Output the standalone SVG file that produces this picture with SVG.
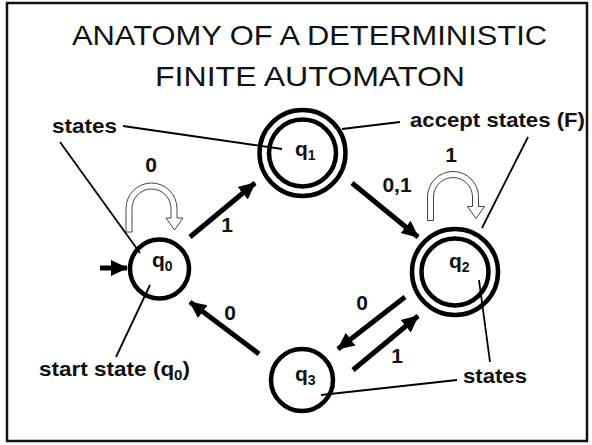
<svg xmlns="http://www.w3.org/2000/svg" width="592" height="445" viewBox="0 0 592 445">
<style>
.title{font-family:"Liberation Sans",Arial,sans-serif;font-size:28px;fill:#111}
.lbl{font-family:"Liberation Sans",Arial,sans-serif;font-size:21px;font-weight:bold;fill:#111}
.st{fill:none;stroke:#000;stroke-width:4.5}
.edge{stroke:#000;stroke-width:5;fill:none}
.lead{stroke:#000;stroke-width:1.8;fill:none}
.loop{fill:#fff;stroke:#444;stroke-width:1}
</style>
<defs>
<marker id="ah" markerUnits="userSpaceOnUse" markerWidth="18" markerHeight="18" refX="16" refY="9" orient="auto">
<path d="M0,1 L17,9 L0,17 Z" fill="#000"/>
</marker>
<path id="loopShape" d="M126,232 L126,208.5 A25.5,25.5 0 0 1 177,208.5 L177,218 L183,218 L174.5,230 L166,218 L171,218 L171,208.5 A19.5,19.5 0 0 0 132,208.5 L132,232 Z"/>
</defs>
<rect x="7" y="3" width="580" height="438" fill="#fff" stroke="#111" stroke-width="2.5"/>
<g id="title">
<text class="title" x="72" y="45" textLength="475" lengthAdjust="spacingAndGlyphs">ANATOMY OF A DETERMINISTIC</text>
<text class="title" x="155" y="86" textLength="310" lengthAdjust="spacingAndGlyphs">FINITE AUTOMATON</text>
</g>
<g id="connectors">
<line class="edge" x1="100" y1="268" x2="127" y2="268" marker-end="url(#ah)"/>
<line class="edge" x1="190" y1="237" x2="255" y2="183" marker-end="url(#ah)"/>
<line class="edge" x1="352" y1="183" x2="418" y2="237" marker-end="url(#ah)"/>
<line class="edge" x1="259" y1="354" x2="190" y2="302" marker-end="url(#ah)"/>
<line class="edge" x1="405" y1="297" x2="338" y2="349" marker-end="url(#ah)"/>
<line class="edge" x1="353" y1="370" x2="418" y2="316" marker-end="url(#ah)"/>
<use href="#loopShape" class="loop"/>
<use href="#loopShape" class="loop" transform="translate(301.5,-11.5)"/>
<text class="lbl" x="151" y="172" text-anchor="middle">0</text>
<text class="lbl" x="227" y="232" text-anchor="middle">1</text>
<text class="lbl" x="397" y="192" text-anchor="middle">0,1</text>
<text class="lbl" x="451" y="162" text-anchor="middle">1</text>
<text class="lbl" x="230" y="320" text-anchor="middle">0</text>
<text class="lbl" x="362" y="310" text-anchor="middle">0</text>
<text class="lbl" x="397" y="363" text-anchor="middle">1</text>
</g>
<g id="annotations">
<line class="lead" x1="123" y1="126" x2="282" y2="149"/>
<line class="lead" x1="60" y1="142" x2="140" y2="253"/>
<line class="lead" x1="342" y1="129" x2="400" y2="122"/>
<line class="lead" x1="482" y1="228" x2="528" y2="137"/>
<line class="lead" x1="150" y1="285" x2="116" y2="357"/>
<line class="lead" x1="479" y1="280" x2="490" y2="362"/>
<line class="lead" x1="321" y1="395" x2="457" y2="380"/>
<text class="lbl" x="52" y="133" textLength="65" lengthAdjust="spacingAndGlyphs">states</text>
<text class="lbl" x="410" y="127" textLength="175" lengthAdjust="spacingAndGlyphs">accept states (F)</text>
<text class="lbl" x="39" y="376" textLength="151" lengthAdjust="spacingAndGlyphs">start state (q<tspan font-size="14" dy="4">0</tspan><tspan dy="-4">)</tspan></text>
<text class="lbl" x="463" y="383" textLength="64" lengthAdjust="spacingAndGlyphs">states</text>
</g>
<g id="q0">
<circle class="st" cx="159.5" cy="269" r="29.5"/>
<text class="lbl" x="152" y="267" font-size="22">q<tspan font-size="14" dy="4">0</tspan></text>
</g>
<g id="q1">
<circle class="st" cx="302.5" cy="153" r="43"/>
<circle class="st" cx="302.5" cy="153" r="33.5"/>
<text class="lbl" x="295" y="156" font-size="22">q<tspan font-size="14" dy="4">1</tspan></text>
</g>
<g id="q2">
<circle class="st" cx="455" cy="272" r="43"/>
<circle class="st" cx="455" cy="272" r="33.5"/>
<text class="lbl" x="449" y="268" font-size="22">q<tspan font-size="14" dy="4">2</tspan></text>
</g>
<g id="q3">
<circle class="st" cx="302" cy="380" r="31"/>
<text class="lbl" x="295" y="381" font-size="22">q<tspan font-size="14" dy="4">3</tspan></text>
</g>
</svg>
